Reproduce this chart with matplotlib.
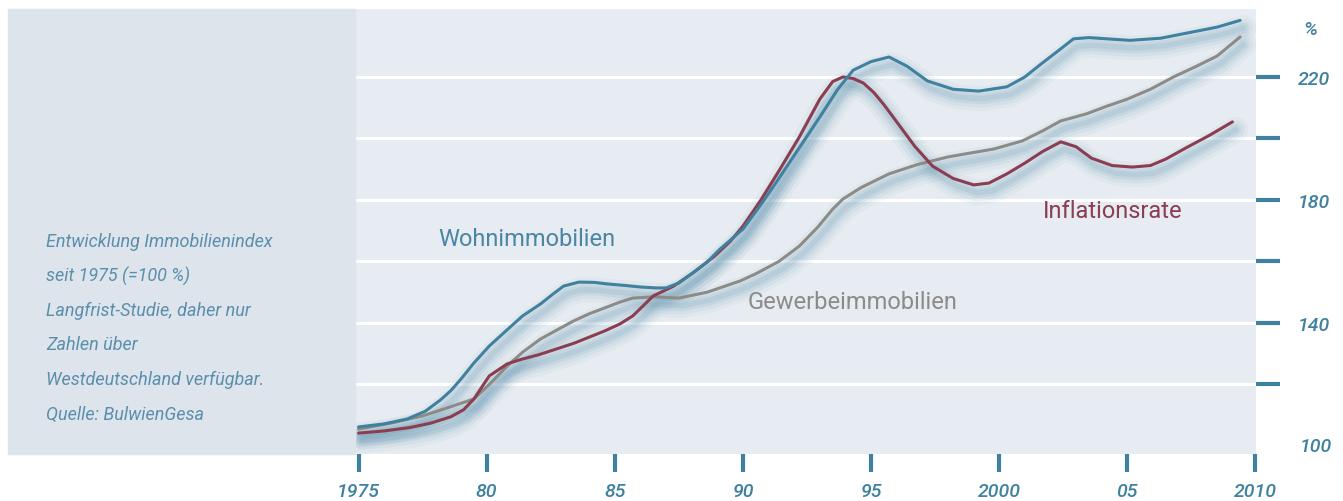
import matplotlib.pyplot as plt
import matplotlib.transforms as mtransforms
from matplotlib.patches import Rectangle

jahre_wohn = [1975.0, 1976.0, 1976.9, 1977.6, 1978.2, 1978.6, 1979.0, 1979.5, 1980.1, 1980.8,
              1981.4, 1982.1, 1982.6, 1983.0, 1983.6, 1984.2, 1984.7, 1985.4, 1986.0, 1986.6,
              1987.0, 1987.5, 1988.0, 1988.6, 1989.1, 1990.0, 1990.7, 1991.4, 1992.2, 1993.0,
              1993.7, 1994.3, 1995.0, 1995.7, 1996.4, 1997.2, 1998.2, 1999.2, 2000.3, 2001.0,
              2001.6, 2002.3, 2002.9, 2003.5, 2004.2, 2005.1, 2006.3, 2007.4, 2008.5, 2009.4]
wohn = [106.2, 107.2, 108.8, 111.3, 115.0, 118.0, 121.8, 127.0, 132.5, 137.8,
        142.3, 146.2, 149.5, 152.0, 153.3, 153.2, 152.7, 152.2, 151.7, 151.4,
        151.4, 153.0, 156.0, 159.8, 164.0, 170.5, 178.5, 187.0, 197.0, 207.0,
        216.0, 222.2, 225.0, 226.5, 223.5, 218.7, 216.0, 215.4, 216.8, 220.0,
        224.0, 228.5, 232.4, 232.8, 232.4, 231.9, 232.6, 234.4, 236.2, 238.4]

jahre_infl = [1975.0, 1976.0, 1977.0, 1977.8, 1978.6, 1979.1, 1979.5, 1980.1, 1980.8, 1981.4,
              1982.0, 1982.7, 1983.4, 1984.0, 1984.6, 1985.2, 1985.7, 1986.5, 1987.3, 1988.1,
              1988.9, 1989.5, 1990.0, 1990.7, 1991.4, 1992.2, 1993.0, 1993.5, 1993.9, 1994.3,
              1994.7, 1995.1, 1995.5, 1996.0, 1996.7, 1997.4, 1998.2, 1999.0, 1999.6, 2000.3,
              2001.0, 2001.7, 2002.4, 2003.0, 2003.6, 2004.4, 2005.2, 2005.9, 2006.5, 2007.3,
              2008.2, 2009.1]
infl = [104.2, 104.9, 106.0, 107.4, 109.5, 111.8, 115.3, 122.8, 126.7, 128.3,
        129.6, 131.5, 133.4, 135.4, 137.4, 139.7, 142.3, 148.8, 152.0, 156.6,
        161.8, 166.5, 171.5, 180.0, 189.4, 200.5, 212.8, 218.5, 220.0, 219.5,
        218.0, 215.0, 211.0, 205.4, 197.5, 191.0, 187.0, 184.9, 185.5, 188.5,
        192.0, 195.8, 198.9, 197.3, 193.6, 191.2, 190.7, 191.2, 193.3, 197.0,
        201.0, 205.4]

jahre_gew = [1975.0, 1976.3, 1977.5, 1978.5, 1979.5, 1980.1, 1980.8, 1981.4, 1982.1, 1982.8,
             1983.4, 1984.0, 1984.7, 1985.2, 1985.7, 1986.5, 1987.5, 1988.6, 1989.9, 1990.5,
             1991.4, 1992.2, 1992.9, 1993.5, 1993.9, 1994.6, 1995.7, 1996.8, 1998.0, 1999.8,
             2000.9, 2001.7, 2002.4, 2003.4, 2004.2, 2005.0, 2005.9, 2006.8, 2007.7, 2008.5,
             2009.4]
gew = [105.5, 107.5, 109.8, 112.5, 115.3, 120.0, 126.0, 130.5, 134.8, 138.0,
       140.7, 143.0, 145.2, 146.8, 148.1, 148.5, 148.1, 150.0, 153.7, 156.0,
       160.0, 165.0, 171.0, 177.0, 180.3, 184.0, 188.5, 191.5, 194.0, 196.6,
       199.2, 202.5, 205.7, 208.0, 210.5, 212.8, 216.0, 220.0, 223.5, 226.8,
       233.0]

x_ticks = [1975, 1980, 1985, 1990, 1995, 2000, 2005, 2010]
x_labels = ['1975', '80', '85', '90', '95', '2000', '05', '2010']
y_ticks = [120, 140, 160, 180, 200, 220]
y_labels = ['', '140', '', '180', '', '220']

teal = '#3f819f'
rot = '#8b3d51'
grau = '#8b8c87'
schatten = '#6f9db6'
fam = ['Roboto', 'DejaVu Sans']

fig = plt.figure(figsize=(13.43, 5.02), dpi=100)
W, H = 1343, 502

# linkes Textfeld
fig.patches.append(Rectangle((8 / W, (H - 455) / H), (355 - 8) / W, 445 / H,
                             transform=fig.transFigure, color='#dde4ec', zorder=0))

ax = fig.add_axes([355 / W, (H - 455) / H, (1256 - 355) / W, 445 / H])
ax.set_facecolor('#e6ecf1')
ax.set_xlim(1974.86, 2010.02)
ax.set_ylim(97.4, 242.1)

for s in ax.spines.values():
    s.set_visible(False)

for y in y_ticks:
    ax.axhline(y, color='white', lw=2.2, zorder=1)

# weicher Schatten unter den Kurven
shift = mtransforms.offset_copy(ax.transData, fig=fig, x=2.5, y=-5.5, units='points')
serien = [(jahre_gew, gew, grau), (jahre_infl, infl, rot), (jahre_wohn, wohn, teal)]
for xs, ys, c in serien:
    for lw, a in [(18, 0.06), (13, 0.09), (8, 0.13), (4, 0.17)]:
        ax.plot(xs, ys, color=schatten, lw=lw, alpha=a, transform=shift,
                solid_capstyle='round', solid_joinstyle='round', zorder=2)
for xs, ys, c in serien:
    ax.plot(xs, ys, color=c, lw=2.2, zorder=3, solid_capstyle='round',
            solid_joinstyle='round')

ax.set_xticks(x_ticks)
ax.set_xticklabels(x_labels)
ax.set_yticks(y_ticks)
ax.set_yticklabels(y_labels)
ax.yaxis.tick_right()
ax.tick_params(axis='x', direction='out', length=13, width=3, color=teal, pad=7,
               labelsize=14, labelcolor=teal)
ax.tick_params(axis='y', direction='out', length=17, width=3, color=teal, pad=13,
               labelsize=14, labelcolor=teal)
for lab in ax.get_xticklabels() + ax.get_yticklabels():
    lab.set_style('italic')
    lab.set_family(fam)
    lab.set_weight('medium')

yt = ax.get_yaxis_transform()
ax.text(1.048, 100, '100', transform=yt, ha='left', va='center', fontsize=14,
        color=teal, style='italic', weight='medium', family=fam, clip_on=False)
ax.text(1.06, 0.955, '%', transform=ax.transAxes, ha='center', va='center', fontsize=14,
        color=teal, style='italic', weight='medium', family=fam, clip_on=False)

# Beschriftungen der Kurven
ax.text(1978.1, 165.5, 'Wohnimmobilien', fontsize=17, color='#4a86a3', family=fam)
ax.text(1990.2, 145, 'Gewerbeimmobilien', fontsize=17, color=grau, family=fam)
ax.text(2001.7, 174.5, 'Inflationsrate', fontsize=17, color=rot, family=fam)

info = ['Entwicklung Immobilienindex', 'seit 1975 (=100 %)', 'Langfrist-Studie, daher nur',
        'Zahlen über', 'Westdeutschland verfügbar.', 'Quelle: BulwienGesa']
for i, zeile in enumerate(info):
    fig.text(46 / W, 1 - (242 + i * 34.5) / H, zeile, fontsize=13, color='#5a8fab',
             style='italic', family=fam, va='center')

fig.savefig('out.png', dpi=100)
